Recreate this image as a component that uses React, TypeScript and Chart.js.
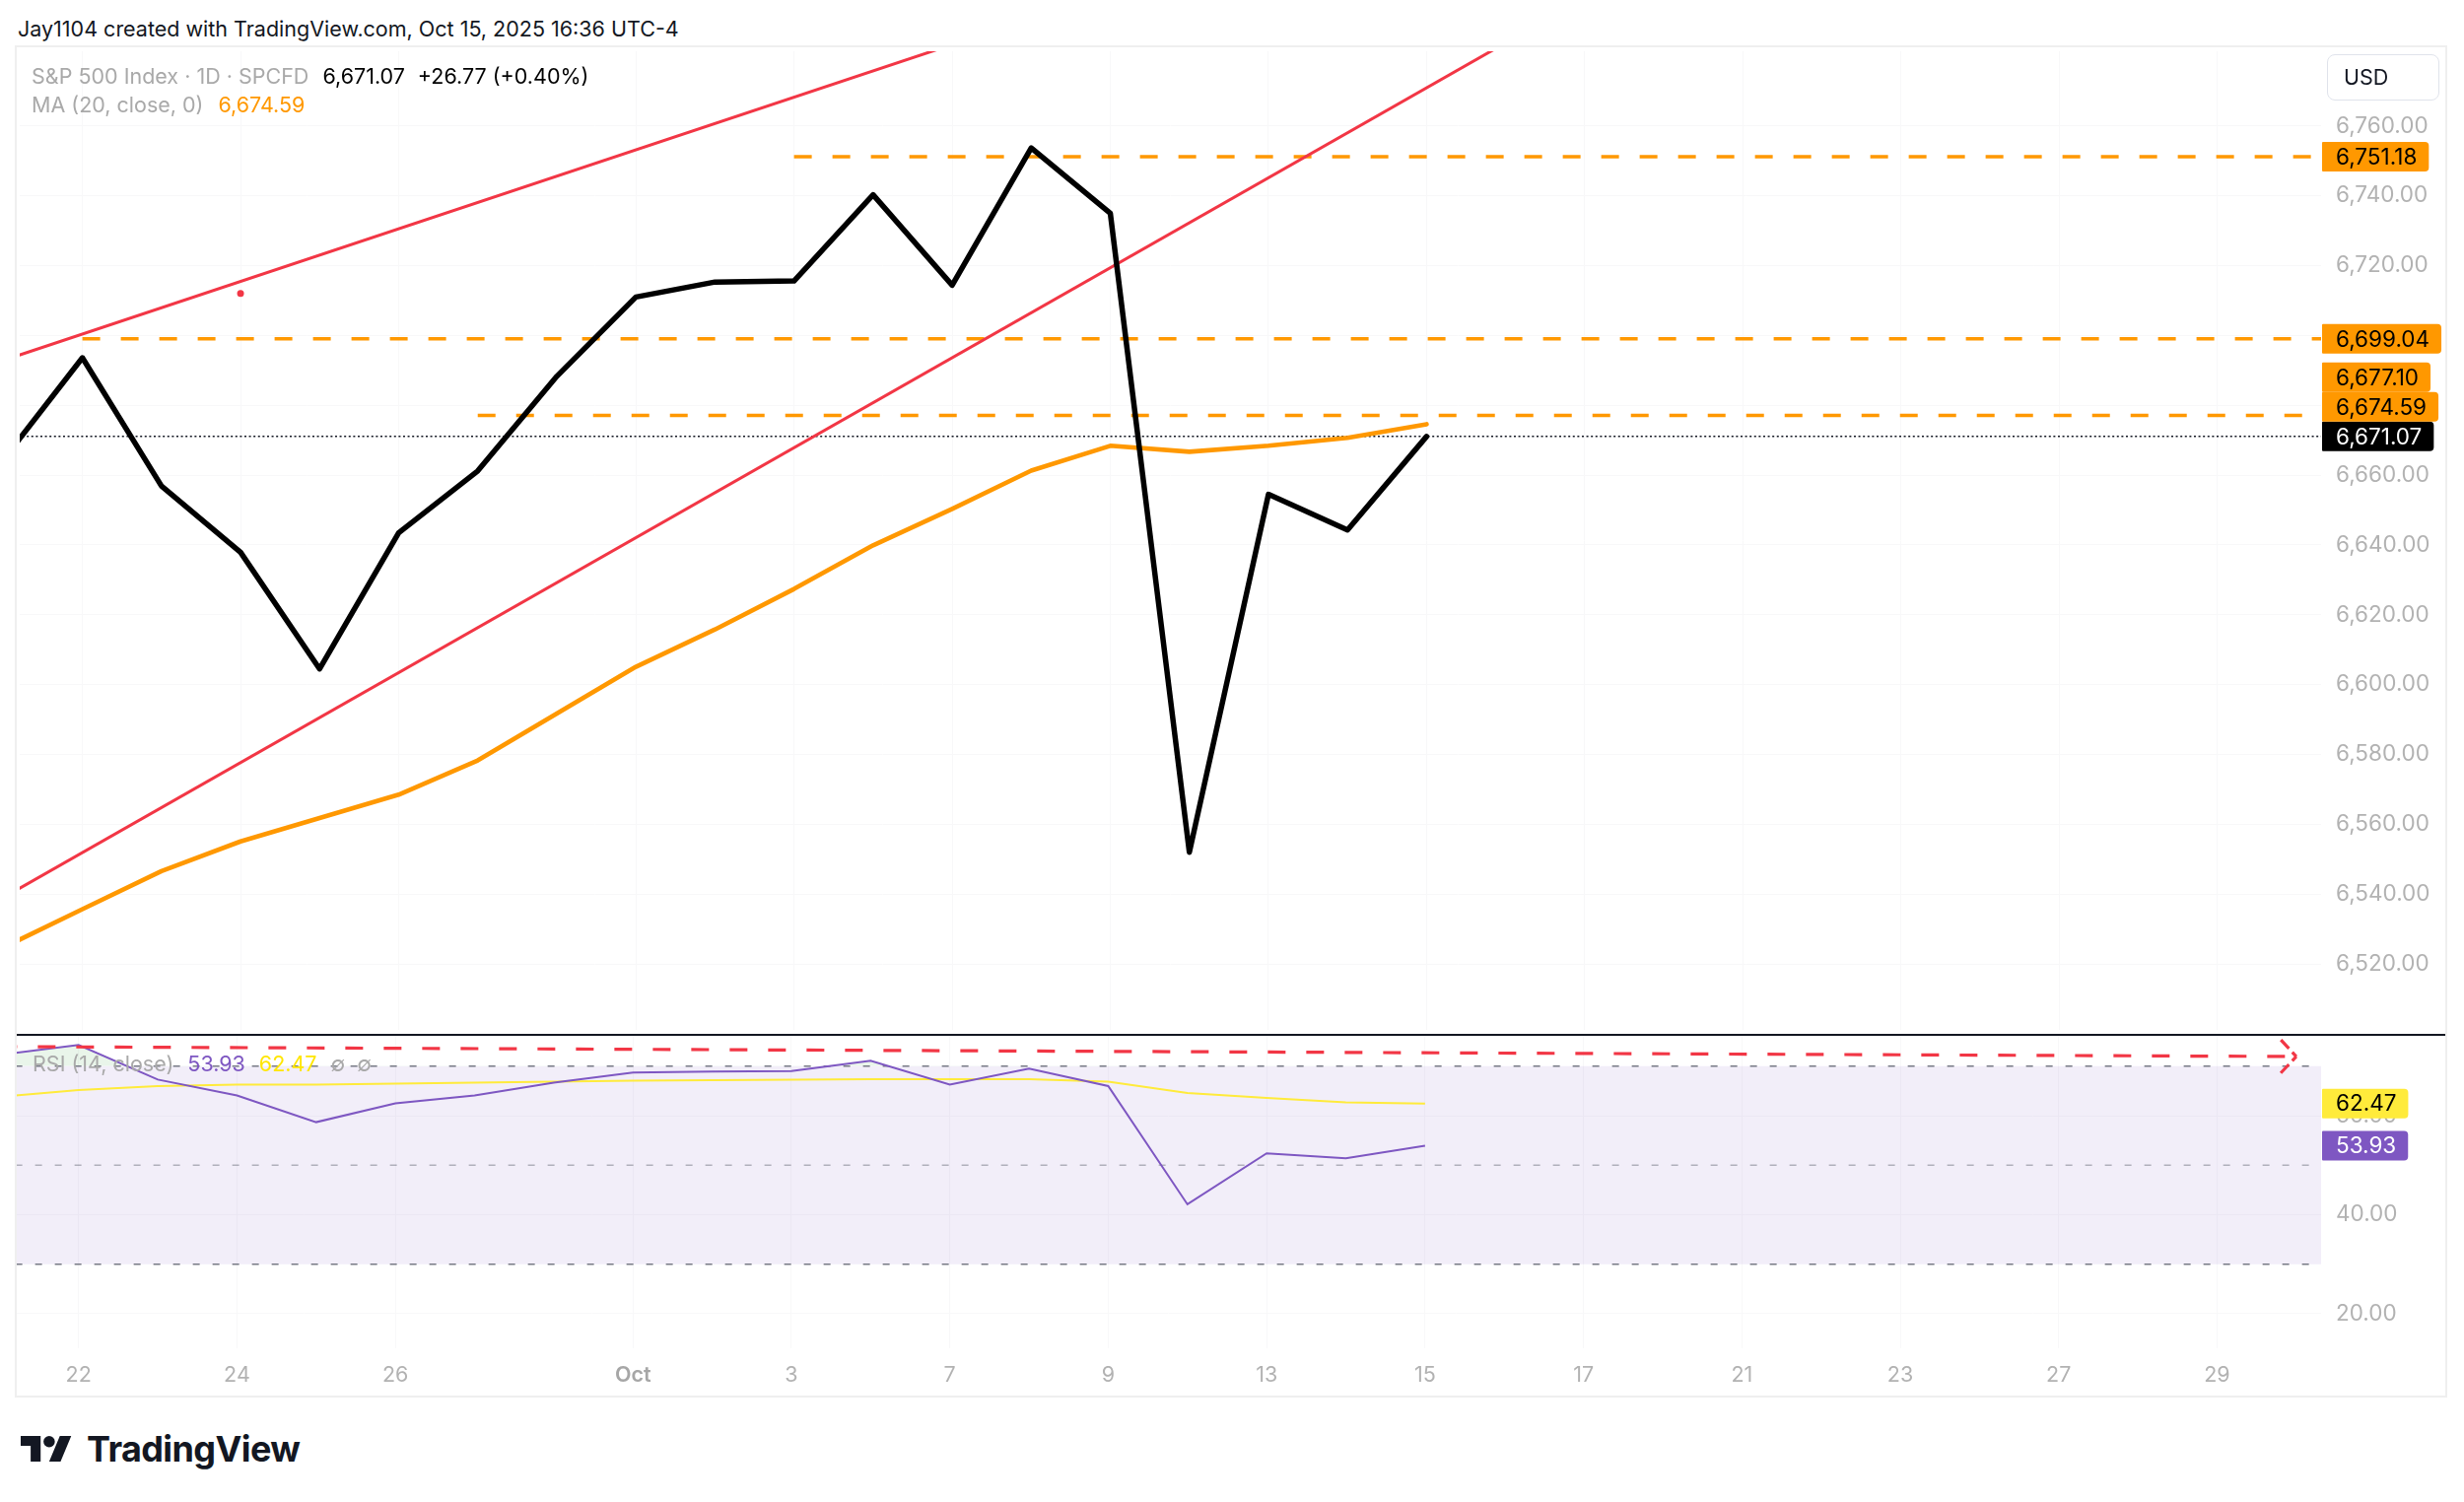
import React, { useEffect, useRef } from "react";
import { Chart, registerables } from "chart.js";

Chart.register(...registerables);

const FONT = "Inter, 'Noto Sans', Roboto, sans-serif";

// ---------- DATA (trading-day index 0 = Sep 19, 2025) ----------
const dayIndex = [0, 1, 2, 3, 4, 5, 6, 7, 8, 9, 10, 11, 12, 13, 14, 15, 16, 17, 18];
const dayLabels = [
  "Sep 19", "Sep 22", "Sep 23", "Sep 24", "Sep 25", "Sep 26", "Sep 29", "Sep 30",
  "Oct 1", "Oct 2", "Oct 3", "Oct 6", "Oct 7", "Oct 8", "Oct 9", "Oct 10",
  "Oct 13", "Oct 14", "Oct 15",
];
const closePrices = [
  6664.4, 6693.6, 6656.9, 6637.9, 6604.5, 6643.5, 6661.2, 6688.3, 6711.0, 6715.3,
  6715.6, 6740.3, 6714.4, 6753.7, 6735.0, 6552.0, 6654.5, 6644.3, 6671.07,
];
const ma20Values = [
  6524.7, 6535.7, 6546.6, 6555.1, 6561.8, 6568.5, 6578.3, 6591.7, 6605.1, 6615.8,
  6627.4, 6639.9, 6650.3, 6661.3, 6668.4, 6666.7, 6668.4, 6670.7, 6674.59,
];
const rsiValues = [
  72.3, 74.3, 67.3, 64.1, 58.7, 62.5, 64.1, 66.7, 68.7, 68.9,
  69.0, 71.1, 66.3, 69.5, 66.0, 42.1, 52.4, 51.4, 53.93,
];
const rsiMaValues = [
  63.8, 65.2, 66.0, 66.3, 66.3, 66.5, 66.7, 66.9, 67.1, 67.2,
  67.3, 67.4, 67.4, 67.4, 66.9, 64.6, 63.6, 62.7, 62.47,
];

const timeTickIndex = [1, 3, 5, 8, 10, 12, 14, 16, 18, 20, 22, 24, 26, 28];
const timeTickLabels = ["22", "24", "26", "Oct", "3", "7", "9", "13", "15", "17", "21", "23", "27", "29"];
const priceTicks = [6520, 6540, 6560, 6580, 6600, 6620, 6640, 6660, 6680, 6700, 6720, 6740, 6760];
const rsiTicks = [20, 40, 60];
const rsiUpperBand = 70;
const rsiMidBand = 50;
const rsiLowerBand = 30;

const levelPrices = [6751.18, 6699.04, 6677.1];
const levelStart = [10, 1, 6];

const upperChannelX = [0, 12];
const upperChannelY = [6692.84, 6783.3];
const lowerChannelX = [0, 19];
const lowerChannelY = [6539.03, 6783.8];
const anchorX = [3];
const anchorY = [6712.0];

const rsiTrendX = [0, 29];
const rsiTrendY = [73.97, 71.96];

const X_MIN = 0.2071;
const X_MAX = 29.313;
const PRICE_MIN = 6501.12;
const PRICE_MAX = 6781.39;
const RSI_MIN = 13.02;
const RSI_MAX = 76.14;

// ---------- helpers ----------
const last = (a: number[]) => a[a.length - 1];
const fmt2 = (v: number) =>
  v.toLocaleString("en-US", { minimumFractionDigits: 2, maximumFractionDigits: 2 });
const pts = (xs: number[], ys: number[]) => xs.map((x, i) => ({ x, y: ys[i] }));

const AXIS_TEXT = "#B2B2B2";
const AXIS_FONT_SIZE = 22.5;
const GRID = "#F8F8F9";
const AXIS_W = 127;
const BADGE_H = 30;

function badgePlugin(id: string, items: { value: number; bg: string; fg: string }[]) {
  return {
    id,
    afterDraw(chart: any) {
      const ys = chart.scales.y;
      const area = chart.chartArea;
      const ctx = chart.ctx;
      ctx.save();
      ctx.font = `400 ${AXIS_FONT_SIZE}px ${FONT}`;
      const placed = items
        .map((it) => ({ ...it, y: ys.getPixelForValue(it.value) }))
        .sort((a, b) => b.y - a.y);
      let prev = Infinity;
      for (const p of placed) {
        if (p.y > prev - BADGE_H) p.y = prev - BADGE_H;
        prev = p.y;
      }
      for (const p of placed) {
        const text = fmt2(p.value);
        const w = ctx.measureText(text).width + 26;
        const x0 = area.right + 1;
        const y0 = p.y - BADGE_H / 2;
        ctx.fillStyle = p.bg;
        ctx.beginPath();
        (ctx as any).roundRect(x0, y0, w, BADGE_H, [1, 4, 4, 1]);
        ctx.fill();
        ctx.fillStyle = p.fg;
        ctx.textAlign = "left";
        ctx.textBaseline = "middle";
        ctx.fillText(text, x0 + 14, p.y + 1);
      }
      ctx.restore();
    },
  };
}

const arrowPlugin = {
  id: "rsiArrow",
  afterDatasetsDraw(chart: any) {
    const xs = chart.scales.x;
    const ys = chart.scales.y;
    const ctx = chart.ctx;
    const n = rsiTrendX.length;
    const x1 = xs.getPixelForValue(rsiTrendX[n - 1]);
    const y1 = ys.getPixelForValue(rsiTrendY[n - 1]);
    const x0 = xs.getPixelForValue(rsiTrendX[n - 2]);
    const y0 = ys.getPixelForValue(rsiTrendY[n - 2]);
    const ang = Math.atan2(y1 - y0, x1 - x0);
    ctx.save();
    ctx.strokeStyle = "#F23645";
    ctx.lineWidth = 3.2;
    ctx.setLineDash([12, 5]);
    for (const s of [-1, 1]) {
      const a = ang + Math.PI + s * 0.82;
      ctx.beginPath();
      ctx.moveTo(x1 + 23 * Math.cos(a), y1 + 23 * Math.sin(a));
      ctx.lineTo(x1, y1);
      ctx.stroke();
    }
    ctx.restore();
  },
};

function xAxis(showLabels: boolean) {
  return {
    type: "linear",
    position: "bottom",
    min: X_MIN,
    max: X_MAX,
    grid: { color: GRID, lineWidth: 1, drawTicks: false },
    border: { display: false },
    ticks: {
      display: showLabels,
      autoSkip: false,
      maxRotation: 0,
      padding: 15,
      color: (c: any) =>
        timeTickLabels[timeTickIndex.indexOf(c.tick?.value)] === "Oct" ? "#A6A6A6" : AXIS_TEXT,
      font: (c: any) => ({
        family: FONT,
        size: 21.5,
        weight: timeTickLabels[timeTickIndex.indexOf(c.tick?.value)] === "Oct" ? "600" : "400",
      }),
      callback: (v: number) => {
        const k = timeTickIndex.indexOf(v);
        return k >= 0 ? timeTickLabels[k] : "";
      },
    },
    afterBuildTicks: (s: any) => {
      s.ticks = timeTickIndex.map((v) => ({ value: v }));
    },
    afterFit: (s: any) => {
      s.height = showLabels ? 48 : 0;
      s.paddingLeft = 0;
      s.paddingRight = 0;
    },
  };
}

function yAxis(min: number, max: number, ticks: number[]) {
  return {
    type: "linear",
    position: "right",
    min,
    max,
    grid: { color: GRID, lineWidth: 1, drawTicks: false },
    border: { display: false },
    ticks: {
      color: AXIS_TEXT,
      padding: 15,
      font: { family: FONT, size: AXIS_FONT_SIZE },
      callback: (v: number) => fmt2(v),
    },
    afterBuildTicks: (s: any) => {
      s.ticks = ticks.map((v) => ({ value: v }));
    },
    afterFit: (s: any) => {
      s.width = AXIS_W;
      s.paddingTop = 0;
      s.paddingBottom = 0;
    },
  };
}

const baseOptions = {
  responsive: false,
  animation: false,
  devicePixelRatio: 1,
  events: [],
  layout: { padding: 0 },
  plugins: { legend: { display: false }, tooltip: { enabled: false } },
  elements: { point: { radius: 0 }, line: { tension: 0 } },
};

function mainConfig(): any {
  const lineBase = { pointRadius: 0, clip: 0, tension: 0, fill: false };
  return {
    type: "line",
    data: {
      datasets: [
        {
          ...lineBase,
          label: "S&P 500",
          data: pts(dayIndex, closePrices),
          borderColor: "#000000",
          borderWidth: 5.5,
          borderJoinStyle: "round",
          borderCapStyle: "round",
          order: 1,
        },
        {
          ...lineBase,
          label: "MA 20",
          data: pts(dayIndex, ma20Values),
          borderColor: "#FF9800",
          borderWidth: 4.6,
          borderJoinStyle: "round",
          borderCapStyle: "round",
          order: 2,
        },
        {
          ...lineBase,
          label: "Channel upper",
          data: pts(upperChannelX, upperChannelY),
          borderColor: "#F23645",
          borderWidth: 3,
          order: 3,
        },
        {
          ...lineBase,
          label: "Channel lower",
          data: pts(lowerChannelX, lowerChannelY),
          borderColor: "#F23645",
          borderWidth: 3,
          order: 3,
        },
        {
          label: "Anchor",
          data: pts(anchorX, anchorY),
          showLine: false,
          pointRadius: 3.5,
          pointBackgroundColor: "#F23645",
          pointBorderWidth: 0,
          clip: 0,
          order: 3,
        },
        ...levelPrices.map((v, k) => ({
          ...lineBase,
          label: "Level " + fmt2(v),
          data: [
            { x: levelStart[k], y: v },
            { x: X_MAX + 1, y: v },
          ],
          borderColor: "#FF9800",
          borderWidth: 3.4,
          borderDash: [18, 21],
          order: 4,
        })),
        {
          ...lineBase,
          label: "Last price",
          data: [
            { x: X_MIN - 1, y: last(closePrices) },
            { x: X_MAX + 1, y: last(closePrices) },
          ],
          borderColor: "#131722",
          borderWidth: 1.5,
          borderDash: [2, 2.6],
          order: 5,
        },
      ],
    },
    options: {
      ...baseOptions,
      scales: {
        x: xAxis(false),
        y: yAxis(PRICE_MIN, PRICE_MAX, priceTicks),
      },
    },
    plugins: [
      badgePlugin("mainBadges", [
        { value: levelPrices[0], bg: "#FF9800", fg: "#000000" },
        { value: levelPrices[1], bg: "#FF9800", fg: "#000000" },
        { value: levelPrices[2], bg: "#FF9800", fg: "#000000" },
        { value: last(ma20Values), bg: "#FF9800", fg: "#000000" },
        { value: last(closePrices), bg: "#000000", fg: "#FFFFFF" },
      ]),
    ],
  };
}

function rsiConfig(): any {
  const lineBase = { pointRadius: 0, clip: 0, tension: 0 };
  const band = (v: number) => [
    { x: X_MIN - 1, y: v },
    { x: X_MAX + 1, y: v },
  ];
  return {
    type: "line",
    data: {
      datasets: [
        {
          ...lineBase,
          label: "RSI",
          data: pts(dayIndex, rsiValues),
          borderColor: "#7E57C2",
          borderWidth: 2,
          fill: { target: { value: rsiUpperBand }, above: "rgba(76,175,80,0.12)", below: "rgba(0,0,0,0)" },
          order: 1,
        },
        {
          ...lineBase,
          label: "RSI MA",
          data: pts(dayIndex, rsiMaValues),
          borderColor: "#FFEB3B",
          borderWidth: 2,
          fill: false,
          order: 2,
        },
        {
          ...lineBase,
          label: "RSI trend",
          data: pts(rsiTrendX, rsiTrendY),
          borderColor: "#F23645",
          borderWidth: 3.2,
          borderDash: [18, 21],
          fill: false,
          order: 0,
        },
        {
          ...lineBase,
          label: "Upper band",
          data: band(rsiUpperBand),
          borderColor: "#787B86",
          borderWidth: 1.5,
          borderDash: [7, 13],
          fill: "+1",
          backgroundColor: "rgba(126,87,194,0.1)",
          order: 6,
        },
        {
          ...lineBase,
          label: "Lower band",
          data: band(rsiLowerBand),
          borderColor: "#787B86",
          borderWidth: 1.5,
          borderDash: [7, 13],
          fill: false,
          order: 6,
        },
        {
          ...lineBase,
          label: "Middle band",
          data: band(rsiMidBand),
          borderColor: "rgba(120,123,134,0.55)",
          borderWidth: 1.5,
          borderDash: [7, 13],
          fill: false,
          order: 5,
        },
      ],
    },
    options: {
      ...baseOptions,
      plugins: { ...baseOptions.plugins, filler: { drawTime: "beforeDatasetsDraw" } },
      scales: {
        x: xAxis(true),
        y: yAxis(RSI_MIN, RSI_MAX, rsiTicks),
      },
    },
    plugins: [
      arrowPlugin,
      badgePlugin("rsiBadges", [
        { value: last(rsiMaValues), bg: "#FFEB3B", fg: "#000000" },
        { value: last(rsiValues), bg: "#7E57C2", fg: "#FFFFFF" },
      ]),
    ],
  };
}

const abs = (left: number, top: number, extra: any = {}) => ({
  position: "absolute" as const,
  left,
  top,
  whiteSpace: "nowrap" as const,
  ...extra,
});

export default function App() {
  const mainRef = useRef<HTMLCanvasElement>(null);
  const rsiRef = useRef<HTMLCanvasElement>(null);

  useEffect(() => {
    const main = new Chart(mainRef.current as HTMLCanvasElement, mainConfig());
    const rsi = new Chart(rsiRef.current as HTMLCanvasElement, rsiConfig());
    return () => {
      main.destroy();
      rsi.destroy();
    };
  }, []);

  const lastClose = last(closePrices);
  const prevClose = closePrices[closePrices.length - 2];
  const chg = lastClose - prevClose;
  const chgPct = (chg / prevClose) * 100;
  const gray = "#A9A9A9";
  const textStyle = { fontSize: 21.5, lineHeight: "22px" };

  return (
    <div
      style={{
        position: "fixed",
        left: 0,
        top: 0,
        width: 2500,
        height: 1524,
        background: "#FFFFFF",
        fontFamily: FONT,
        overflow: "hidden",
      }}
    >
      <div style={abs(18, 18, { ...textStyle, color: "#131722" })}>
        Jay1104 created with TradingView.com, Oct 15, 2025 16:36 UTC-4
      </div>

      <canvas
        ref={mainRef}
        width={2466}
        height={1001}
        style={{ position: "absolute", left: 16, top: 48, width: 2466, height: 1001 }}
      />
      <div style={{ position: "absolute", left: 16, top: 1049, width: 2466, height: 2, background: "#131722" }} />
      <canvas
        ref={rsiRef}
        width={2466}
        height={365}
        style={{ position: "absolute", left: 16, top: 1051, width: 2466, height: 365 }}
      />

      <div
        style={{
          position: "absolute",
          left: 15,
          top: 46,
          width: 2468,
          height: 1372,
          border: "2px solid #EFEFEF",
          boxSizing: "border-box",
          pointerEvents: "none",
        }}
      />

      <div style={abs(32, 66, textStyle)}>
        <span style={{ color: gray }}>S&amp;P 500 Index · 1D · SPCFD</span>
        <span style={{ color: "#000000", marginLeft: 14 }}>{fmt2(lastClose)}</span>
        <span style={{ color: "#000000", marginLeft: 13 }}>
          {(chg >= 0 ? "+" : "") + chg.toFixed(2)} ({(chgPct >= 0 ? "+" : "") + chgPct.toFixed(2)}%)
        </span>
      </div>
      <div style={abs(32, 95, textStyle)}>
        <span style={{ color: gray }}>MA (20, close, 0)</span>
        <span style={{ color: "#FF9800", marginLeft: 15 }}>{fmt2(last(ma20Values))}</span>
      </div>

      <div
        style={{
          position: "absolute",
          left: 2361,
          top: 55,
          width: 114,
          height: 47,
          border: "1.5px solid #E0E3EB",
          borderRadius: 8,
          boxSizing: "border-box",
          background: "#FFFFFF",
        }}
      >
        <div style={abs(16, 11, { ...textStyle, color: "#131722" })}>USD</div>
      </div>

      <div style={abs(33, 1068, textStyle)}>
        <span style={{ color: gray }}>RSI (14, close)</span>
        <span style={{ color: "#7E57C2", marginLeft: 14 }}>{fmt2(last(rsiValues))}</span>
        <span style={{ color: "#FFE600", marginLeft: 14 }}>{fmt2(last(rsiMaValues))}</span>
        <span style={{ color: gray, marginLeft: 14 }}>∅</span>
        <span style={{ color: gray, marginLeft: 12 }}>∅</span>
      </div>

      <svg
        viewBox="0 4 36 18"
        width={52}
        height={26}
        style={{ position: "absolute", left: 21, top: 1457 }}
      >
        <path d="M14 22H7V11H0V4h14v18zM28 22h-8l7.5-18h8L28 22z" fill="#131722" />
        <circle cx="20" cy="8" r="4" fill="#131722" />
      </svg>
      <div
        style={abs(88, 1452, {
          fontSize: 36,
          lineHeight: "36px",
          fontWeight: 700,
          color: "#131722",
          letterSpacing: -0.6,
        })}
      >
        TradingView
      </div>
    </div>
  );
}
